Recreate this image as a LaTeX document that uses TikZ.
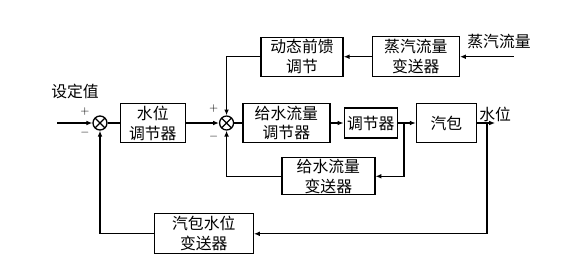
\documentclass[tikz,border=0pt]{standalone}
\usepackage{fontspec}
\newfontfamily\cjk{Noto Sans CJK SC}
\usetikzlibrary{arrows.meta, positioning, calc}
\tikzset{
  block/.style={
    draw,
    rectangle,
    line width=1.1pt,
    minimum height=1.17cm,
    align=center,
    inner sep=1pt,
    font=\cjk\fontsize{13.5}{17}\selectfont
  },
  sumnode/.style={
    draw,
    circle,
    line width=1.1pt,
    minimum size=0.42cm,
    inner sep=0pt,
    path picture={
      \draw[line width=1.1pt]
        (path picture bounding box.north west) -- (path picture bounding box.south east)
        (path picture bounding box.north east) -- (path picture bounding box.south west);
    }
  },
  txt/.style={
    inner sep=1pt,
    font=\cjk\fontsize{13.5}{17}\selectfont
  },
  sign/.style={
    inner sep=0pt,
    font=\normalsize
  },
  arrow/.style={
    -{Latex[length=5pt,width=4pt]},
    line width=1.1pt
  }
}

\begin{document}
\begin{tikzpicture}

\useasboundingbox (-3.0,-4.44) rectangle (14.34,3.69);

% --- Main chain ---
\node[sumnode] (sum1) at (0,0) {};
\node[block, minimum width=1.95cm, right=0.36cm of sum1] (wlc) {水位\\调节器};
\node[sumnode, right=0.99cm of wlc] (sum2) {};
\node[block, minimum width=2.61cm, right=0.24cm of sum2] (fwc) {给水流量\\调节器};
\node[block, minimum width=1.6cm, minimum height=0.9cm, right=0.39cm of fwc] (reg) {调节器};
\node[block, minimum width=1.8cm, right=0.53cm of reg] (drum) {汽包};

% --- Feed-forward branch ---
\node[block, minimum width=2.46cm, above=0.78cm of fwc, xshift=0.47cm] (ff) {动态前馈\\调节};
\node[block, minimum width=2.61cm, minimum height=1.2cm, right=0.84cm of ff] (stm) {蒸汽流量\\变送器};

% --- Feedback transmitters ---
\node[block, minimum width=2.79cm, minimum height=1.11cm, below=0.42cm of fwc, xshift=1.26cm] (fwt) {给水流量\\变送器};
\node[block, minimum width=2.97cm, minimum height=1.2cm, below=2.1cm of wlc, xshift=1.53cm] (lt) {汽包水位\\变送器};

% --- Free ends and branch points ---
\coordinate[left=1.05cm of sum1.west] (in);
\coordinate[right=1.62cm of stm.east] (sin);
\coordinate[right=0.54cm of drum.east] (out);
\coordinate[right=0.3cm of drum.east] (fb);
\coordinate[right=0.18cm of reg.east] (br);

% --- Labels ---
\node[txt, above=0.45cm of sum1.north, xshift=-0.75cm] (setp) {设定值};
\node[txt, anchor=west] (steam) at ($(stm.east)+(0.18,0.45)$) {蒸汽流量};
\node[txt, anchor=south] (level) at (out) {水位};
\node[sign] (p1) at ($(sum1)+(-0.45,0.33)$) {$+$};
\node[sign] (m1) at ($(sum1)+(-0.45,-0.3)$) {$-$};
\node[sign] (p2) at ($(sum2)+(-0.39,0.42)$) {$+$};
\node[sign] (m2) at ($(sum2)+(-0.39,-0.42)$) {$-$};

% --- Connectors ---
\draw[arrow] (in) -- (sum1.west);
\draw[line width=1.1pt] (sum1.east) -- (wlc.west);
\draw[arrow] (wlc.east) -- (sum2.west);
\draw[line width=1.1pt] (sum2.east) -- (fwc.west);
\draw[arrow] (fwc.east) -- (reg.west);
\draw[arrow] (reg.east) -- (drum.west);
\draw[arrow] (drum.east) -- (out);

\draw[arrow] (sin) -- (stm.east);
\draw[arrow] (stm.west) -- (ff.east);
\draw[arrow] (ff.west) -| (sum2.north);

\draw[arrow] (br) |- (fwt.east);
\draw[arrow] (fwt.west) -| (sum2.south);

\draw[arrow] (fb) |- (lt.east);
\draw[arrow] (lt.west) -| (sum1.south);

\end{tikzpicture}
\end{document}
